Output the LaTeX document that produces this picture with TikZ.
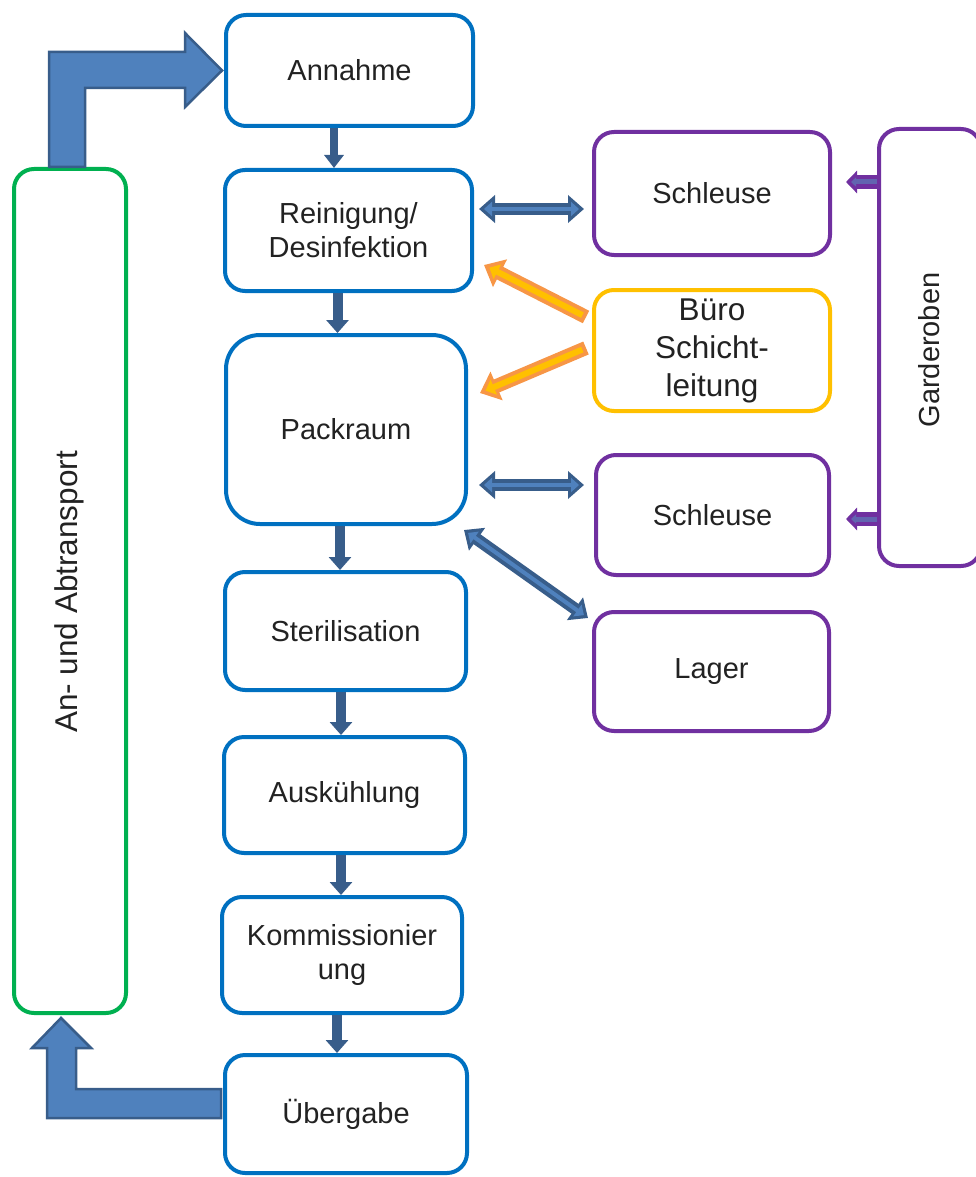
\documentclass[tikz,border=0pt]{standalone}
\usepackage{fontspec}
\setmainfont{Liberation Sans}
\usetikzlibrary{arrows.meta,calc}
\definecolor{boxblue}{HTML}{0070C0}
\definecolor{boxgreen}{HTML}{00B050}
\definecolor{boxpurple}{HTML}{7030A0}
\definecolor{boxyellow}{HTML}{FFC000}
\definecolor{arrfill}{HTML}{4F81BD}
\definecolor{arrline}{HTML}{385D8A}
\definecolor{arrorange}{HTML}{F79646}
\definecolor{purinner}{HTML}{6264B0}
\definecolor{txt}{HTML}{222222}
\newcommand\dblarr[2]{%
  \draw[dblout] #1 -- #2;
  \draw[dblin] #1 -- #2;}
\newcommand\orarr[2]{%
  \draw[orout] #1 -- #2;
  \draw[orin] #1 -- #2;}
\newcommand\purarr[2]{%
  \draw[purout] #1 -- #2;
  \draw[purin] #1 -- #2;}
\begin{document}
\begin{tikzpicture}[x=1pt,y=-1pt,
  basebox/.style={draw, line width=4pt, rounded corners=20pt, align=center,
    inner sep=0pt, text=txt, font=\fontsize{29}{34}\selectfont},
  bbox/.style={basebox, draw=boxblue},
  gbox/.style={basebox, draw=boxgreen},
  pbox/.style={basebox, draw=boxpurple},
  ybox/.style={basebox, draw=boxyellow, font=\fontsize{31.5}{38}\selectfont},
  bigarrow/.style={fill=arrfill, draw=arrline, line width=2.5pt, line join=miter},
  downarr/.style={draw=arrline, line width=10pt, -{Triangle[width=22pt,length=13pt]}},
  dblout/.style={draw=arrline, line width=12pt,
    {Triangle[width=27pt,length=16pt]}-{Triangle[width=27pt,length=16pt]}},
  dblin/.style={draw=arrfill, line width=4pt,
    {Triangle[width=14pt,length=8pt]}-{Triangle[width=14pt,length=8pt]},
    shorten <=5pt, shorten >=5pt},
  orout/.style={draw=arrorange, line width=14pt, -{Triangle[width=30pt,length=18pt]}},
  orin/.style={draw=boxyellow, line width=6pt, -{Triangle[width=16pt,length=9pt]},
    shorten >=6pt, shorten <=4pt},
  purout/.style={draw=boxpurple, line width=14pt, -{Triangle[width=22pt,length=11pt]}},
  purin/.style={draw=purinner, line width=5pt, -{Triangle[width=9pt,length=5pt]},
    shorten >=5pt},
  rottext/.style={rotate=90, text=txt}
]
\useasboundingbox (0,0) rectangle (976,1177);

% main chain
\node[bbox, minimum width=247pt, minimum height=111pt] (annahme) at (349.5,70.5) {Annahme};
\node[bbox, minimum width=247pt, minimum height=121pt] (reinigung) at (348.5,230.5) {Reinigung/\\Desinfektion};
\node[bbox, rounded corners=34pt, minimum width=240pt, minimum height=189pt] (packraum) at (346,429.5) {Packraum};
\node[bbox, minimum width=241pt, minimum height=118pt] (steril) at (345.5,631) {Sterilisation};
\node[bbox, minimum width=241pt, minimum height=116pt] (auskuehl) at (344.5,795) {Auskühlung};
\node[bbox, minimum width=240pt, minimum height=116pt] (komm) at (342,955) {Kommissionier\\ung};
\node[bbox, minimum width=242pt, minimum height=118pt] (uebergabe) at (346,1114) {Übergabe};

% transport
\node[gbox, minimum width=112pt, minimum height=844pt] (transport) at (70,591) {};
\node[rottext, font=\fontsize{31.5}{36}\selectfont] (transporttext) at (69,592) {An- und Abtransport};

% right side
\node[pbox, minimum width=236pt, minimum height=123pt] (schleuse1) at (712,193.5) {Schleuse};
\node[ybox, minimum width=236pt, minimum height=121pt] (buero) at (712,350.5) {Büro\\Schicht-\\leitung};
\node[pbox, minimum width=233pt, minimum height=120pt] (schleuse2) at (712.5,515) {Schleuse};
\node[pbox, minimum width=235pt, minimum height=119pt] (lager) at (711.5,671.5) {Lager};
\node[pbox, minimum width=102pt, minimum height=437pt] (garderoben) at (930,347.5) {};
\node[rottext, font=\fontsize{29}{34}\selectfont] (gardtext) at (929,350) {Garderoben};

% big bent arrow top
\coordinate (tn) at (transport.north);
\coordinate (aw) at (annahme.west);
\filldraw[bigarrow] ($(tn)+(-21,0)$) -- ($(tn |- aw)+(-21,-18.5)$) -- ($(aw)+(-39,-18.5)$)
  -- ($(aw)+(-39,-37.5)$) -- ($(aw)+(-2,0)$) -- ($(aw)+(-39,36.5)$) -- ($(aw)+(-39,17.5)$)
  -- ($(tn |- aw)+(15,17.5)$) -- ($(tn)+(15,0)$) -- cycle;

% big bent arrow bottom
\coordinate (ts) at (transport.south);
\coordinate (ub) at (uebergabe.west);
\filldraw[bigarrow] ($(ub)+(-2,-25)$) -- ($(ts |- ub)+(6,-25)$) -- ($(ts)+(6,33)$)
  -- ($(ts)+(21,33)$) -- ($(ts)+(-9,3)$) -- ($(ts)+(-38,33)$) -- ($(ts)+(-23,33)$)
  -- ($(ts |- ub)+(-23,4)$) -- ($(ub)+(-2,4)$) -- cycle;

% down arrows
\coordinate (d1) at ($(annahme.south)+(-15.5,0)$);
\draw[downarr, line width=8pt, -{Triangle[width=19pt,length=13pt]}] (d1) -- (d1 |- reinigung.north);
\coordinate (d2) at ($(reinigung.south)+(-11,0)$);
\draw[downarr] (d2) -- (d2 |- packraum.north);
\coordinate (d3) at ($(packraum.south)+(-6,0)$);
\draw[downarr] (d3) -- (d3 |- steril.north);
\coordinate (d4) at ($(steril.south)+(-4.5,0)$);
\draw[downarr] (d4) -- (d4 |- auskuehl.north);
\coordinate (d5) at ($(auskuehl.south)+(-3.5,0)$);
\draw[downarr] (d5) -- (d5 |- komm.north);
\coordinate (d6) at ($(komm.south)+(-5,0)$);
\draw[downarr] (d6) -- (d6 |- uebergabe.north);

% double arrows
\coordinate (h1) at ($(reinigung.east)+(5,-21.5)$);
\dblarr{(h1)}{($(h1 -| schleuse1.west)+(-8,0)$)}
\coordinate (h2) at ($(packraum.east)+(11,55.5)$);
\dblarr{(h2)}{($(h2 -| schleuse2.west)+(-10,0)$)}
\dblarr{($(packraum.south east)+(-4,4)$)}{($(lager.north west)+(-4,8)$)}

% orange arrows
\orarr{($(buero.west)+(-6,-33.5)$)}{($(reinigung.east)+(10,34.5)$)}
\orarr{($(buero.west)+(-6,-2.5)$)}{($(packraum.east)+(12,-36.5)$)}

% purple arrows
\coordinate (g1) at ($(garderoben.west)+(0,-165.5)$);
\purarr{(g1)}{($(g1 -| schleuse1.east)+(14,0)$)}
\coordinate (g2) at ($(garderoben.west)+(0,171.5)$);
\purarr{(g2)}{($(g2 -| schleuse2.east)+(15,0)$)}
\end{tikzpicture}
\end{document}
